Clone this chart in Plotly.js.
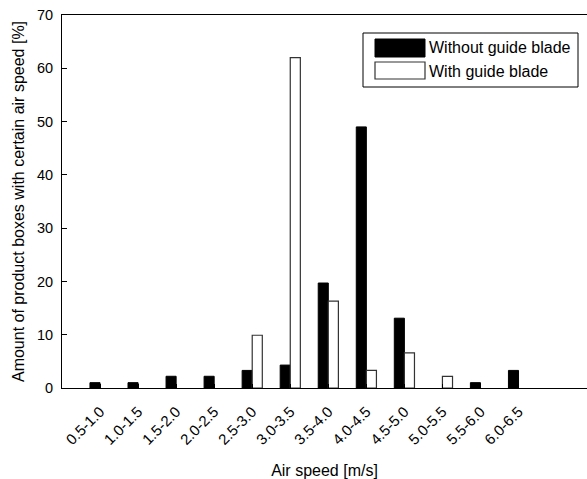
<!DOCTYPE html>
<html>
<head>
<meta charset="utf-8">
<script src="https://cdn.plot.ly/plotly-3.0.1.min.js"></script>
<style>html,body{margin:0;padding:0;background:#fff;}#chart{width:587px;height:479px;}</style>
</head>
<body>
<div id="chart"></div>
<script>
var categories = ["0.5-1.0","1.0-1.5","1.5-2.0","2.0-2.5","2.5-3.0","3.0-3.5","3.5-4.0","4.0-4.5","4.5-5.0","5.0-5.5","5.5-6.0","6.0-6.5"];
var withoutGuide = [1, 1, 2.2, 2.2, 3.3, 4.3, 19.7, 49, 13.1, 0, 1, 3.3];
var withGuide = [0, 0, 0, 0, 9.9, 62, 16.3, 3.3, 6.6, 2.2, 0, 0];
var seriesNames = ["Without guide blade", "With guide blade"];

var xpos = categories.map(function(c, i){ return i + 1; });
var FONT = "Liberation Sans, Arial, sans-serif";

function lineWidths(vals, w){ return vals.map(function(v){ return v > 0 ? w : 0; }); }

var traces = [
  {type:"bar", x:xpos, y:withoutGuide, name:seriesNames[0], marker:{color:"#000000", line:{color:"#000000", width:lineWidths(withoutGuide, 1)}}, showlegend:false, hoverinfo:"y"},
  {type:"bar", x:xpos, y:withGuide, name:seriesNames[1], marker:{color:"#ffffff", line:{color:"#333333", width:lineWidths(withGuide, 1.2)}}, showlegend:false, hoverinfo:"y"}
];

// plot area in pixels: left 62, right 587, top 15, bottom 388
var L=62, R=587, T=15, B=388;
function px(x){ return (x-L)/(R-L); }
function py(y){ return (B-y)/(B-T); }

var shapes = [
  {type:"rect", xref:"paper", yref:"paper", x0:px(363), x1:px(578), y0:py(87), y1:py(33), line:{color:"#000", width:1}, fillcolor:"#fff", layer:"above"},
  {type:"rect", xref:"paper", yref:"paper", x0:px(375), x1:px(425), y0:py(57), y1:py(39), line:{color:"#000", width:1}, fillcolor:"#000", layer:"above"},
  {type:"rect", xref:"paper", yref:"paper", x0:px(375), x1:px(425), y0:py(79), y1:py(62), line:{color:"#333", width:1.2}, fillcolor:"#fff", layer:"above"}
];
var annotations = [
  {xref:"paper", yref:"paper", x:px(427), y:py(48), xanchor:"left", yanchor:"middle", text:seriesNames[0], showarrow:false, font:{family:FONT, size:16, color:"#000"}},
  {xref:"paper", yref:"paper", x:px(427), y:py(71), xanchor:"left", yanchor:"middle", text:seriesNames[1], showarrow:false, font:{family:FONT, size:16, color:"#000"}}
];

var layout = {
  width:587, height:479,
  margin:{l:L, r:587-R, t:T, b:479-B, pad:0},
  paper_bgcolor:"#fff", plot_bgcolor:"#fff",
  barmode:"group", bargap:0.47, bargroupgap:0,
  font:{family:FONT, color:"#000"},
  xaxis:{
    range:[0, 13.8], tickvals:xpos, ticktext:categories, tickangle:-45,
    ticks:"inside", ticklen:4, tickcolor:"#000",
    ticklabelstandoff:8,
    showline:true, linecolor:"#000", linewidth:1, mirror:true,
    showgrid:false, zeroline:false, automargin:false,
    tickfont:{family:FONT, size:15, color:"#000"},
    title:{text:"Air speed [m/s]", font:{family:FONT, size:16, color:"#000"}, standoff:22}
  },
  yaxis:{
    range:[0, 70], tickvals:[0,10,20,30,40,50,60,70],
    ticks:"inside", ticklen:5, tickcolor:"#000",
    ticklabelstandoff:5,
    showline:true, linecolor:"#000", linewidth:1, mirror:false,
    showgrid:false, zeroline:false, automargin:false,
    tickfont:{family:FONT, size:14.5, color:"#000"},
    title:{text:"Amount of product boxes with certain air speed [%]", font:{family:FONT, size:16, color:"#000"}, standoff:8}
  },
  shapes:shapes, annotations:annotations
};

Plotly.newPlot("chart", traces, layout, {displayModeBar:false, staticPlot:true});
</script>
</body>
</html>
